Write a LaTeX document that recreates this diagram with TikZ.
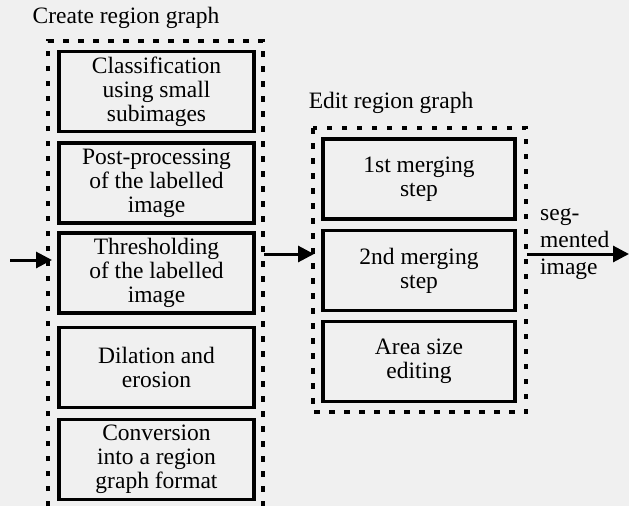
\documentclass[tikz,border=0pt]{standalone}
\usepackage{fontspec}
\setmainfont{Liberation Serif}
\usetikzlibrary{arrows.meta}
\begin{document}
\begin{tikzpicture}[x=1pt,y=-1pt,
  procbox/.style={draw=black, line width=3.2pt, minimum height=80pt, inner sep=0pt, align=center,
     font=\fontsize{23.5}{24}\selectfont},
  leftbox/.style={procbox, minimum width=195pt},
  rightbox/.style={procbox, minimum width=192pt},
  frame/.style={draw=black, line width=3.6pt, dash pattern=on 5.5pt off 9.5pt},
  flow/.style={draw=black, line width=3pt, -{Triangle[length=16pt,width=16pt]}},
  title/.style={font=\fontsize{23.5}{24}\selectfont, inner sep=0pt}
]
\fill[black!6] (0,0) rectangle (629,506);
\useasboundingbox (0,0) rectangle (629,506);

% titles
\node[title] (t1) at (126,18) {Create region graph};
\node[title] (t2) at (391,103) {Edit region graph};

% frames
\coordinate (f1bl) at (48,506);
\coordinate (f1tl) at (48,41);
\coordinate (f1tr) at (263,41);
\coordinate (f1br) at (263,506);
\draw[frame] (f1bl) -- (f1tl) -- (f1tr) -- (f1br);

\coordinate (f2tl) at (313,128);
\coordinate (f2br) at (526,412);
\draw[frame] (f2tl) rectangle (f2br);

% left boxes
\node[leftbox] (a1) at (156.5,91.5) {Classification\\using small\\subimages};
\node[leftbox] (a2) at (156.5,183) {Post-processing\\of the labelled\\image};
\node[leftbox] (a3) at (156.5,273) {Thresholding\\of the labelled\\image};
\node[leftbox] (a4) at (156.5,367.5) {Dilation and\\erosion};
\node[leftbox] (a5) at (156.5,459.5) {Conversion\\into a region\\graph format};

% right boxes
\node[rightbox] (b1) at (419,179) {1st merging\\step};
\node[rightbox] (b2) at (419,270.5) {2nd merging\\step};
\node[rightbox] (b3) at (419,361.5) {Area size\\editing};

% connectors
\coordinate (in) at (10,260);
\coordinate (inend) at (52,260);
\draw[flow] (in) -- (inend);

\coordinate (m1) at (264,254);
\coordinate (m2) at (314,254);
\draw[flow] (m1) -- (m2);

\coordinate (o1) at (527,254);
\coordinate (o2) at (629,254);
\draw[flow] (o1) -- (o2);

\node[anchor=west, align=left, inner sep=0pt, font=\fontsize{23.5}{27}\selectfont] (lbl) at (540,244) {seg-\\mented\\image};
\end{tikzpicture}
\end{document}
